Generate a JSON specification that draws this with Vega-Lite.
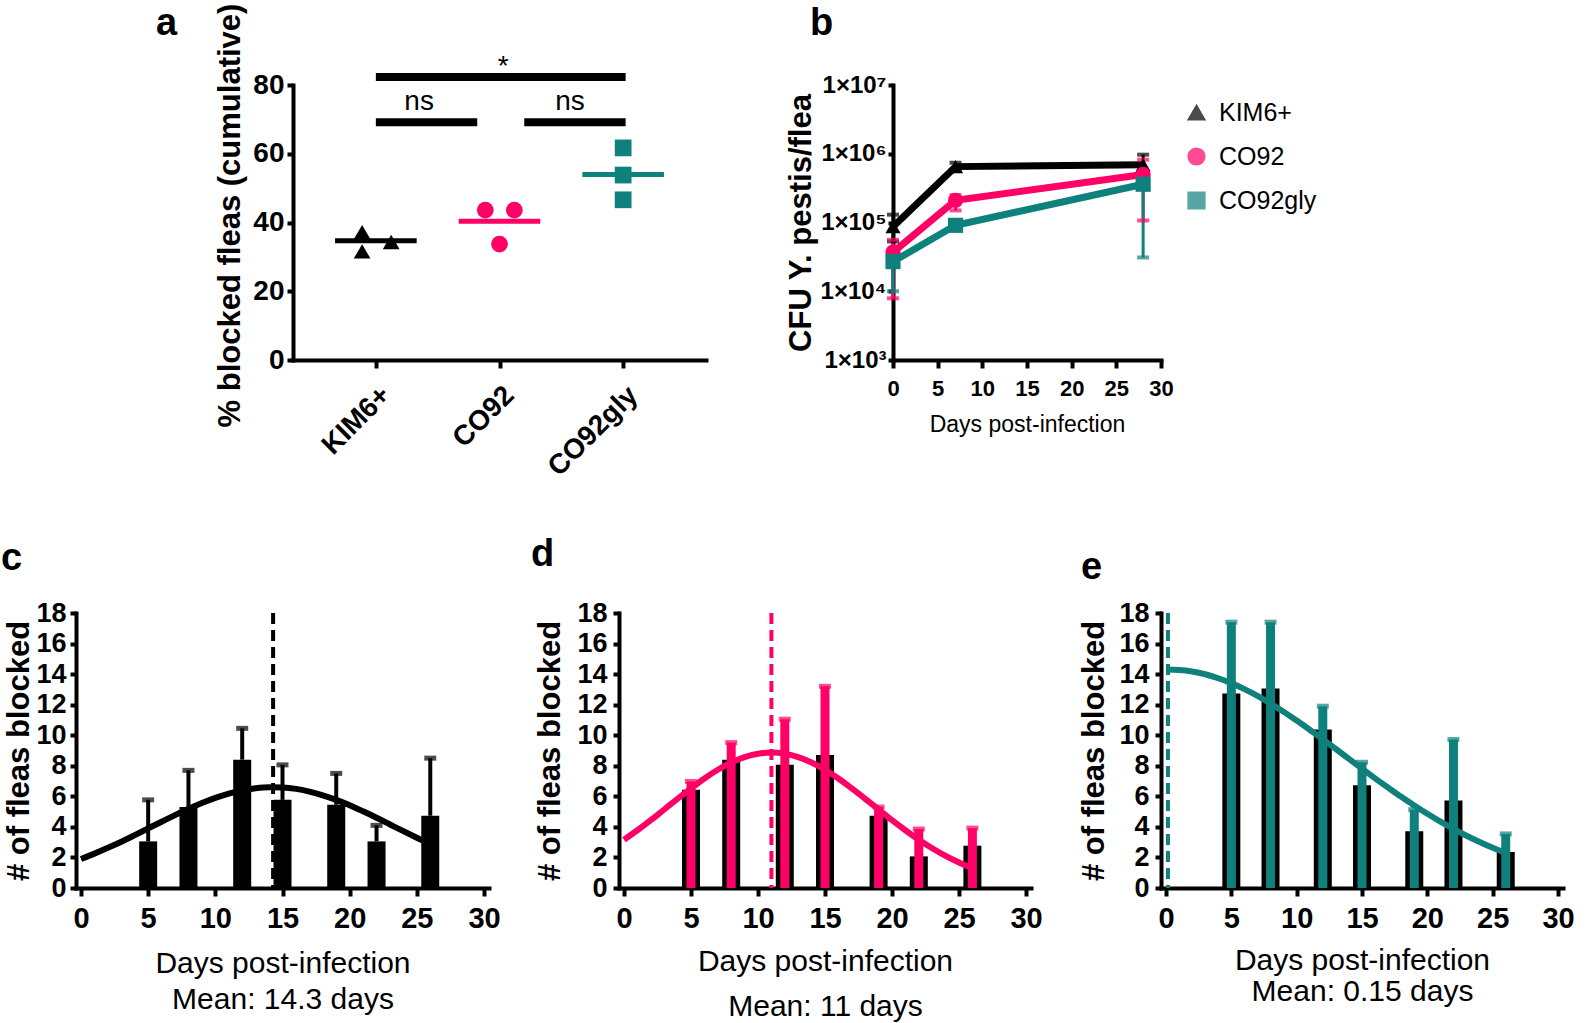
{
  "$schema": "https://vega.github.io/schema/vega-lite/v6.json",
  "autosize": {"type": "pad"},
  "padding": {"left": 1, "top": 3, "right": 5, "bottom": 5},
  "background": "white",
  "config": {
    "view": {"stroke": null},
    "axis": {"grid": false, "domainColor": "black", "domainWidth": 4, "domainCap": "square", "tickColor": "black", "tickWidth": 4, "labelColor": "black", "titleColor": "black", "labelFont": "Liberation Sans", "titleFont": "Liberation Sans", "labelFontWeight": "bold", "titleFontWeight": "bold", "labelOverlap": false, "labelFlush": false},
    "legend": {"labelColor": "black"}
  },
  "resolve": {"scale": {"color": "independent", "shape": "independent"}, "legend": {"color": "independent", "shape": "independent"}},
  "datasets": {
    "a_pts": [
      {"strain": "KIM6+", "pos": -0.111, "pct": 37.2},
      {"strain": "KIM6+", "pos": -0.111, "pct": 31.6},
      {"strain": "KIM6+", "pos": 0.124, "pct": 34.3},
      {"strain": "CO92", "pos": 0.885, "pct": 43.6},
      {"strain": "CO92", "pos": 1.12, "pct": 43.6},
      {"strain": "CO92", "pos": 1.0, "pct": 33.7},
      {"strain": "CO92gly", "pos": 2.0, "pct": 61.7},
      {"strain": "CO92gly", "pos": 2.0, "pct": 53.8},
      {"strain": "CO92gly", "pos": 2.0, "pct": 46.6}
    ],
    "a_means": [
      {"strain": "KIM6+", "lo": -0.33, "hi": 0.33, "mean": 34.7},
      {"strain": "CO92", "lo": 0.67, "hi": 1.33, "mean": 40.4},
      {"strain": "CO92gly", "lo": 1.67, "hi": 2.33, "mean": 54.0}
    ],
    "a_sig": [
      {"x1": 0, "x2": 2.02, "y": 82.3, "label": "*", "lx": 1.03, "ly": 85.3},
      {"x1": 0, "x2": 0.82, "y": 69.2, "label": "ns", "lx": 0.35, "ly": 75.1},
      {"x1": 1.2, "x2": 2.02, "y": 69.2, "label": "ns", "lx": 1.57, "ly": 75.1}
    ],
    "b_cfu": [
      {"strain": "KIM6+", "day": 0, "cfu": 87000, "lo": 53000, "hi": 130000},
      {"strain": "KIM6+", "day": 7, "cfu": 650000, "lo": 560000, "hi": 740000},
      {"strain": "KIM6+", "day": 28, "cfu": 690000, "lo": 460000, "hi": 970000},
      {"strain": "CO92", "day": 0, "cfu": 37000, "lo": 7900, "hi": 56000},
      {"strain": "CO92", "day": 7, "cfu": 210000, "lo": 150000, "hi": 250000},
      {"strain": "CO92", "day": 28, "cfu": 500000, "lo": 107000, "hi": 820000},
      {"strain": "CO92gly", "day": 0, "cfu": 27000, "lo": 10000, "hi": 36000},
      {"strain": "CO92gly", "day": 7, "cfu": 91000, "lo": 80000, "hi": 105000},
      {"strain": "CO92gly", "day": 28, "cfu": 360000, "lo": 31000, "hi": 540000}
    ],
    "c_bars": [
      {"day": 5, "count": 3.05, "err": 5.77},
      {"day": 8, "count": 5.3, "err": 7.7},
      {"day": 12, "count": 8.4, "err": 10.45},
      {"day": 15, "count": 5.77, "err": 8.06},
      {"day": 19, "count": 5.45, "err": 7.5},
      {"day": 22, "count": 3.05, "err": 4.1},
      {"day": 26, "count": 4.73, "err": 8.5}
    ],
    "d_bars": [
      {"day": 5, "count": 6.43, "err": 6.97},
      {"day": 8, "count": 8.39, "err": 9.52},
      {"day": 12, "count": 8.06, "err": 11.05},
      {"day": 15, "count": 8.71, "err": 13.2},
      {"day": 19, "count": 4.73, "err": 5.3},
      {"day": 22, "count": 2.07, "err": 3.86},
      {"day": 26, "count": 2.77, "err": 3.92}
    ],
    "e_bars": [
      {"day": 5, "count": 12.73, "err": 17.4},
      {"day": 8, "count": 13.06, "err": 17.4},
      {"day": 12, "count": 10.37, "err": 11.9},
      {"day": 15, "count": 6.72, "err": 8.23},
      {"day": 19, "count": 3.71, "err": 5.13},
      {"day": 22, "count": 5.72, "err": 9.72},
      {"day": 26, "count": 2.36, "err": 3.54}
    ],
    "c_fit": [
      {"day": 0, "fit": 1.9}, {"day": 1, "fit": 2.25}, {"day": 2, "fit": 2.63}, {"day": 3, "fit": 3.03}, {"day": 4, "fit": 3.46}, {"day": 5, "fit": 3.9}, {"day": 6, "fit": 4.34}, {"day": 7, "fit": 4.77}, {"day": 8, "fit": 5.18}, {"day": 9, "fit": 5.56}, {"day": 10, "fit": 5.9}, {"day": 11, "fit": 6.18}, {"day": 12, "fit": 6.39}, {"day": 13, "fit": 6.53}, {"day": 14, "fit": 6.6}, {"day": 15, "fit": 6.58}, {"day": 16, "fit": 6.49}, {"day": 17, "fit": 6.31}, {"day": 18, "fit": 6.07}, {"day": 19, "fit": 5.77}, {"day": 20, "fit": 5.42}, {"day": 21, "fit": 5.02}, {"day": 22, "fit": 4.6}, {"day": 23, "fit": 4.16}, {"day": 24, "fit": 3.72}, {"day": 25, "fit": 3.29}, {"day": 26, "fit": 2.87}
    ],
    "d_fit": [
      {"day": 0, "fit": 3.16}, {"day": 1, "fit": 3.78}, {"day": 2, "fit": 4.44}, {"day": 3, "fit": 5.14}, {"day": 4, "fit": 5.84}, {"day": 5, "fit": 6.52}, {"day": 6, "fit": 7.17}, {"day": 7, "fit": 7.74}, {"day": 8, "fit": 8.21}, {"day": 9, "fit": 8.57}, {"day": 10, "fit": 8.79}, {"day": 11, "fit": 8.87}, {"day": 12, "fit": 8.79}, {"day": 13, "fit": 8.57}, {"day": 14, "fit": 8.21}, {"day": 15, "fit": 7.74}, {"day": 16, "fit": 7.17}, {"day": 17, "fit": 6.52}, {"day": 18, "fit": 5.84}, {"day": 19, "fit": 5.14}, {"day": 20, "fit": 4.44}, {"day": 21, "fit": 3.78}, {"day": 22, "fit": 3.16}, {"day": 23, "fit": 2.6}, {"day": 24, "fit": 2.1}, {"day": 25, "fit": 1.67}, {"day": 26, "fit": 1.3}
    ],
    "e_fit": [
      {"day": 0, "fit": 14.3}, {"day": 1, "fit": 14.27}, {"day": 2, "fit": 14.17}, {"day": 3, "fit": 13.99}, {"day": 4, "fit": 13.73}, {"day": 5, "fit": 13.41}, {"day": 6, "fit": 13.02}, {"day": 7, "fit": 12.58}, {"day": 8, "fit": 12.08}, {"day": 9, "fit": 11.54}, {"day": 10, "fit": 10.96}, {"day": 11, "fit": 10.36}, {"day": 12, "fit": 9.73}, {"day": 13, "fit": 9.1}, {"day": 14, "fit": 8.45}, {"day": 15, "fit": 7.81}, {"day": 16, "fit": 7.18}, {"day": 17, "fit": 6.57}, {"day": 18, "fit": 5.97}, {"day": 19, "fit": 5.4}, {"day": 20, "fit": 4.86}, {"day": 21, "fit": 4.35}, {"day": 22, "fit": 3.87}, {"day": 23, "fit": 3.42}, {"day": 24, "fit": 3.01}, {"day": 25, "fit": 2.63}, {"day": 26, "fit": 2.29}
    ],
    "c_mean": [{"mean": 14.3}],
    "d_mean": [{"mean": 11}],
    "e_mean": [{"mean": 0.15}]
  },
  "bounds": "flush",
  "spacing": 528,
  "vconcat": [
    {
      "bounds": "flush",
      "spacing": 187,
      "resolve": {"scale": {"color": "independent", "shape": "independent"}, "legend": {"color": "independent", "shape": "independent"}},
      "hconcat": [
        {"width": 30, "height": 10, "data": {"values": [{"v": 0}]}, "mark": {"type": "point", "opacity": 0}, "encoding": {}},
        {
          "width": 413, "height": 275,
          "title": {"text": "a", "anchor": "start", "frame": "group", "align": "left", "baseline": "alphabetic", "fontSize": 38, "fontWeight": "bold", "font": "Liberation Sans", "color": "black", "offset": 0, "dx": -137, "dy": 70},
          "layer": [
            {
              "data": {"name": "a_sig"},
              "mark": {"type": "rule", "strokeWidth": 8, "color": "black"},
              "encoding": {
                "x": {"field": "x1", "type": "quantitative", "title": null, "scale": {"domain": [-0.67, 2.67], "nice": false, "zero": false},
                  "axis": {"values": [0, 1, 2], "tickCount": 10, "labelExpr": "datum.value == 0 ? 'KIM6+' : datum.value == 1 ? 'CO92' : 'CO92gly'", "labelAngle": -45, "labelFontSize": 28, "labelOverlap": false, "tickSize": 8, "labelPadding": 13, "title": null}},
                "x2": {"field": "x2"},
                "y": {"field": "y", "type": "quantitative", "title": "% blocked fleas (cumulative)", "scale": {"domain": [0, 80], "nice": false},
                  "axis": {"values": [0, 20, 40, 60, 80], "tickCount": 10, "labelFontSize": 28, "labelOverlap": false, "tickSize": 6, "labelPadding": 3, "titleFontSize": 31, "titlePadding": 6, "titleY": 130}}
              }
            },
            {
              "data": {"name": "a_sig"},
              "mark": {"type": "text", "font": "Liberation Sans", "fontSize": 28, "color": "black", "baseline": "middle", "align": "center"},
              "encoding": {
                "x": {"field": "lx", "type": "quantitative", "title": null},
                "y": {"field": "ly", "type": "quantitative", "title": "% blocked fleas (cumulative)"},
                "text": {"field": "label", "type": "nominal"}
              }
            },
            {
              "data": {"name": "a_means"},
              "mark": {"type": "rule", "strokeWidth": 5},
              "encoding": {
                "x": {"field": "lo", "type": "quantitative", "title": null},
                "x2": {"field": "hi"},
                "y": {"field": "mean", "type": "quantitative", "title": "% blocked fleas (cumulative)"},
                "color": {"field": "strain", "type": "nominal", "scale": {"domain": ["KIM6+", "CO92", "CO92gly"], "range": ["#000000", "#FF0066", "#0F817C"]}, "legend": null}
              }
            },
            {
              "data": {"name": "a_pts"},
              "mark": {"type": "point", "filled": true, "size": 280, "opacity": 1},
              "encoding": {
                "x": {"field": "pos", "type": "quantitative", "title": null},
                "y": {"field": "pct", "type": "quantitative", "title": "% blocked fleas (cumulative)"},
                "color": {"field": "strain", "type": "nominal", "legend": null},
                "shape": {"field": "strain", "type": "nominal", "scale": {"domain": ["KIM6+", "CO92", "CO92gly"], "range": ["triangle-up", "circle", "square"]}, "legend": null}
              }
            }
          ]
        },
        {
          "width": 268, "height": 275,
          "title": {"text": "b", "anchor": "start", "frame": "group", "align": "left", "baseline": "alphabetic", "fontSize": 38, "fontWeight": "bold", "font": "Liberation Sans", "color": "black", "offset": 0, "dx": -83, "dy": 0},
          "data": {"name": "b_cfu"},
          "layer": [
            {
              "mark": {"type": "line", "strokeWidth": 7},
              "encoding": {
                "x": {"field": "day", "type": "quantitative", "title": "Days post-infection", "scale": {"domain": [0, 30], "nice": false},
                  "axis": {"values": [0, 5, 10, 15, 20, 25, 30], "tickCount": 10, "labelFontSize": 22, "labelOverlap": false, "tickSize": 8, "labelPadding": 10, "titleFontSize": 23, "titleFontWeight": "normal", "titlePadding": 14}},
                "y": {"field": "cfu", "type": "quantitative", "title": "CFU Y. pestis/flea", "scale": {"type": "log", "domain": [1000, 10000000], "nice": false},
                  "axis": {"values": [1000, 10000, 100000, 1000000, 10000000], "tickCount": 10, "labelExpr": "'1×10' + (datum.value < 5000 ? '³' : datum.value < 50000 ? '⁴' : datum.value < 500000 ? '⁵' : datum.value < 5000000 ? '⁶' : '⁷')", "labelFontSize": 24, "labelOverlap": false, "tickSize": 5, "labelPadding": 2, "titleFontSize": 31, "titlePadding": 3}},
                "color": {"field": "strain", "type": "nominal", "scale": {"domain": ["KIM6+", "CO92", "CO92gly"], "range": ["#000000", "#FF0066", "#0F817C"]},
                  "legend": {"title": null, "orient": "right", "offset": 8, "padding": 15, "labelFontSize": 25, "labelFont": "Liberation Sans", "symbolSize": 280, "symbolOpacity": 1, "rowPadding": 18, "labelOffset": 10}}
              }
            },
            {
              "mark": {"type": "rule", "strokeWidth": 3},
              "encoding": {
                "x": {"field": "day", "type": "quantitative", "title": "Days post-infection"},
                "y": {"field": "lo", "type": "quantitative", "title": "CFU Y. pestis/flea"},
                "y2": {"field": "hi"},
                "color": {"field": "strain", "type": "nominal"}
              }
            },
            {
              "mark": {"type": "tick", "orient": "horizontal", "size": 12, "thickness": 4},
              "encoding": {
                "x": {"field": "day", "type": "quantitative", "title": "Days post-infection"},
                "y": {"field": "lo", "type": "quantitative", "title": "CFU Y. pestis/flea"},
                "color": {"field": "strain", "type": "nominal"}
              }
            },
            {
              "mark": {"type": "tick", "orient": "horizontal", "size": 12, "thickness": 4},
              "encoding": {
                "x": {"field": "day", "type": "quantitative", "title": "Days post-infection"},
                "y": {"field": "hi", "type": "quantitative", "title": "CFU Y. pestis/flea"},
                "color": {"field": "strain", "type": "nominal"}
              }
            },
            {
              "mark": {"type": "point", "filled": true, "size": 230, "opacity": 1},
              "encoding": {
                "x": {"field": "day", "type": "quantitative", "title": "Days post-infection"},
                "y": {"field": "cfu", "type": "quantitative", "title": "CFU Y. pestis/flea"},
                "color": {"field": "strain", "type": "nominal"},
                "shape": {"field": "strain", "type": "nominal", "scale": {"domain": ["KIM6+", "CO92", "CO92gly"], "range": ["triangle-up", "circle", "square"]},
                  "legend": {"title": null, "orient": "right", "offset": 8, "padding": 15, "labelFontSize": 25, "labelFont": "Liberation Sans", "symbolSize": 280, "symbolOpacity": 1, "rowPadding": 18, "labelOffset": 10}}
              }
            }
          ]
        }
      ]
    },
    {
      "bounds": "flush",
      "spacing": 130,
      "hconcat": [
        {
          "width": 413, "height": 275,
          "title": {"text": "c", "anchor": "start", "frame": "group", "align": "left", "baseline": "alphabetic", "fontSize": 38, "fontWeight": "bold", "font": "Liberation Sans", "color": "black", "offset": 0, "dx": -75, "dy": 9},
          "layer": [
            {
              "data": {"name": "c_bars"},
              "mark": {"type": "bar", "size": 18, "color": "black"},
              "encoding": {
                "x": {"field": "day", "type": "quantitative", "title": ["Days post-infection", "Mean: 14.3 days"], "scale": {"domain": [0, 30], "nice": false},
                  "axis": {"values": [0, 5, 10, 15, 20, 25, 30], "tickCount": 20, "labelFontSize": 29, "labelOverlap": false, "tickSize": 8, "labelPadding": 8, "titleFontSize": 30, "titleFontWeight": "normal", "titleLineHeight": 36, "titlePadding": 15}},
                "y": {"field": "count", "type": "quantitative", "title": "# of fleas blocked", "scale": {"domain": [0, 18], "nice": false},
                  "axis": {"values": [0, 2, 4, 6, 8, 10, 12, 14, 16, 18], "tickCount": 20, "labelFontSize": 27, "labelOverlap": false, "tickSize": 6, "labelPadding": 4, "titleFontSize": 31, "titlePadding": 0}}
              }
            },
            {
              "data": {"name": "c_bars"},
              "mark": {"type": "rule", "strokeWidth": 4, "color": "black"},
              "encoding": {
                "x": {"field": "day", "type": "quantitative", "title": ["Days post-infection", "Mean: 14.3 days"]},
                "y": {"field": "count", "type": "quantitative", "title": "# of fleas blocked"},
                "y2": {"field": "err"}
              }
            },
            {
              "data": {"name": "c_bars"},
              "mark": {"type": "tick", "orient": "horizontal", "size": 12, "thickness": 5, "color": "black"},
              "encoding": {
                "x": {"field": "day", "type": "quantitative", "title": ["Days post-infection", "Mean: 14.3 days"]},
                "y": {"field": "err", "type": "quantitative", "title": "# of fleas blocked"}
              }
            },
            {
              "data": {"name": "c_mean"},
              "mark": {"type": "rule", "strokeWidth": 4, "strokeDash": [11, 6], "color": "black"},
              "encoding": {
                "x": {"field": "mean", "type": "quantitative", "title": ["Days post-infection", "Mean: 14.3 days"]}
              }
            },
            {
              "data": {"name": "c_fit"},
              "mark": {"type": "line", "strokeWidth": 6, "color": "black", "interpolate": "monotone"},
              "encoding": {
                "x": {"field": "day", "type": "quantitative", "title": ["Days post-infection", "Mean: 14.3 days"]},
                "y": {"field": "fit", "type": "quantitative", "title": "# of fleas blocked"}
              }
            }
          ]
        },
        {
          "width": 412, "height": 275,
          "title": {"text": "d", "anchor": "start", "frame": "group", "align": "left", "baseline": "alphabetic", "fontSize": 38, "fontWeight": "bold", "font": "Liberation Sans", "color": "black", "offset": 0, "dx": -88, "dy": 5},
          "layer": [
            {
              "data": {"name": "d_bars"},
              "mark": {"type": "bar", "size": 18, "color": "black"},
              "encoding": {
                "x": {"field": "day", "type": "quantitative", "title": ["Days post-infection", "Mean: 11 days"], "scale": {"domain": [0, 30], "nice": false},
                  "axis": {"values": [0, 5, 10, 15, 20, 25, 30], "tickCount": 20, "labelFontSize": 29, "labelOverlap": false, "tickSize": 8, "labelPadding": 8, "titleFontSize": 30, "titleFontWeight": "normal", "titleLineHeight": 45, "titlePadding": 13}},
                "y": {"field": "count", "type": "quantitative", "title": "# of fleas blocked", "scale": {"domain": [0, 18], "nice": false},
                  "axis": {"values": [0, 2, 4, 6, 8, 10, 12, 14, 16, 18], "tickCount": 20, "labelFontSize": 27, "labelOverlap": false, "tickSize": 6, "labelPadding": 6, "titleFontSize": 31, "titlePadding": 10}}
              }
            },
            {
              "data": {"name": "d_mean"},
              "mark": {"type": "rule", "strokeWidth": 4, "strokeDash": [11, 6], "color": "#FF0066"},
              "encoding": {
                "x": {"field": "mean", "type": "quantitative", "title": ["Days post-infection", "Mean: 11 days"]}
              }
            },
            {
              "data": {"name": "d_bars"},
              "mark": {"type": "bar", "size": 9, "color": "#FF0066"},
              "encoding": {
                "x": {"field": "day", "type": "quantitative", "title": ["Days post-infection", "Mean: 11 days"]},
                "y": {"field": "err", "type": "quantitative", "title": "# of fleas blocked"}
              }
            },
            {
              "data": {"name": "d_bars"},
              "mark": {"type": "tick", "orient": "horizontal", "size": 12, "thickness": 5, "color": "#FF0066"},
              "encoding": {
                "x": {"field": "day", "type": "quantitative", "title": ["Days post-infection", "Mean: 11 days"]},
                "y": {"field": "err", "type": "quantitative", "title": "# of fleas blocked"}
              }
            },
            {
              "data": {"name": "d_fit"},
              "mark": {"type": "line", "strokeWidth": 6, "color": "#FF0066", "interpolate": "monotone"},
              "encoding": {
                "x": {"field": "day", "type": "quantitative", "title": ["Days post-infection", "Mean: 11 days"]},
                "y": {"field": "fit", "type": "quantitative", "title": "# of fleas blocked"}
              }
            }
          ]
        },
        {
          "width": 402, "height": 275,
          "title": {"text": "e", "anchor": "start", "frame": "group", "align": "left", "baseline": "alphabetic", "fontSize": 38, "fontWeight": "bold", "font": "Liberation Sans", "color": "black", "offset": 0, "dx": -80, "dy": 18},
          "layer": [
            {
              "data": {"name": "e_bars"},
              "mark": {"type": "bar", "size": 18, "color": "black"},
              "encoding": {
                "x": {"field": "day", "type": "quantitative", "title": ["Days post-infection", "Mean: 0.15 days"], "scale": {"domain": [0, 30], "nice": false},
                  "axis": {"values": [0, 5, 10, 15, 20, 25, 30], "tickCount": 20, "labelFontSize": 29, "labelOverlap": false, "tickSize": 8, "labelPadding": 8, "titleFontSize": 30, "titleFontWeight": "normal", "titleLineHeight": 31, "titlePadding": 12}},
                "y": {"field": "count", "type": "quantitative", "title": "# of fleas blocked", "scale": {"domain": [0, 18], "nice": false},
                  "axis": {"values": [0, 2, 4, 6, 8, 10, 12, 14, 16, 18], "tickCount": 20, "labelFontSize": 27, "labelOverlap": false, "tickSize": 6, "labelPadding": 6, "titleFontSize": 31, "titlePadding": 8}}
              }
            },
            {
              "data": {"name": "e_mean"},
              "mark": {"type": "rule", "strokeWidth": 4, "strokeDash": [11, 6], "color": "#0F817C"},
              "encoding": {
                "x": {"field": "mean", "type": "quantitative", "title": ["Days post-infection", "Mean: 0.15 days"]}
              }
            },
            {
              "data": {"name": "e_bars"},
              "mark": {"type": "bar", "size": 9, "color": "#0F817C"},
              "encoding": {
                "x": {"field": "day", "type": "quantitative", "title": ["Days post-infection", "Mean: 0.15 days"]},
                "y": {"field": "err", "type": "quantitative", "title": "# of fleas blocked"}
              }
            },
            {
              "data": {"name": "e_bars"},
              "mark": {"type": "tick", "orient": "horizontal", "size": 12, "thickness": 5, "color": "#0F817C"},
              "encoding": {
                "x": {"field": "day", "type": "quantitative", "title": ["Days post-infection", "Mean: 0.15 days"]},
                "y": {"field": "err", "type": "quantitative", "title": "# of fleas blocked"}
              }
            },
            {
              "data": {"name": "e_fit"},
              "mark": {"type": "line", "strokeWidth": 6, "color": "#0F817C", "interpolate": "monotone"},
              "encoding": {
                "x": {"field": "day", "type": "quantitative", "title": ["Days post-infection", "Mean: 0.15 days"]},
                "y": {"field": "fit", "type": "quantitative", "title": "# of fleas blocked"}
              }
            }
          ]
        }
      ]
    }
  ]
}
